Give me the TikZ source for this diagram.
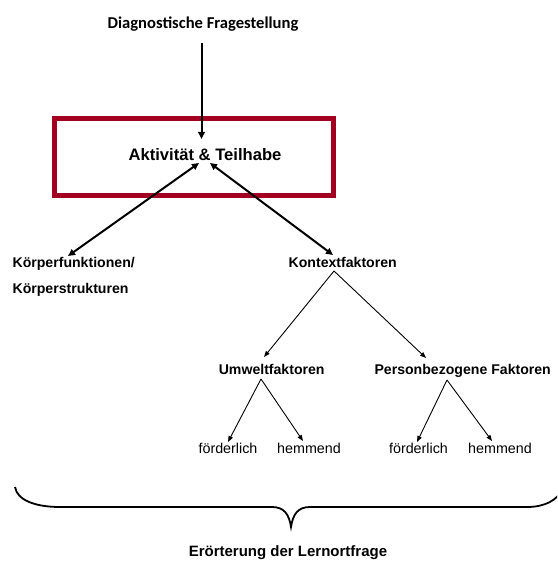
\documentclass[tikz,border=0pt]{standalone}
\usepackage{fontspec}
\setmainfont{Liberation Sans}
\newfontfamily\calib{Carlito}
\usetikzlibrary{arrows.meta}
\definecolor{boxred}{RGB}{163,0,33}
\begin{document}
\begin{tikzpicture}[x=1pt,y=-1pt,
  lbl/.style={font=\bfseries\fontsize{14.1}{17}\selectfont, inner sep=0pt, anchor=base},
  val/.style={font=\fontsize{14.3}{17}\selectfont, inner sep=0pt, anchor=base},
  thickarr/.style={line width=2pt, -{Triangle[length=7pt,width=6.5pt]}},
  dblarr/.style={line width=2pt, {Triangle[length=7pt,width=6.5pt]}-{Triangle[length=7pt,width=6.5pt]}},
  thinarr/.style={line width=0.9pt, -{Triangle[length=6pt,width=4.5pt]}},
  redbox/.style={draw=boxred, line width=5pt}]
\useasboundingbox (0,0) rectangle (557,561);
\clip (0,0) rectangle (557,561);
% texts
\node[inner sep=0pt, anchor=base, font=\calib\bfseries\fontsize{16.6}{20}\selectfont] (title) at (203,28.3) {Diagnostische Fragestellung};
\draw[redbox] (54,118.5) rectangle (333.2,195.8);
\node[inner sep=0pt, anchor=base, font=\bfseries\fontsize{16.6}{20}\selectfont] (akt) at (205,160.7) {Aktivität \& Teilhabe};
\node[lbl, anchor=base west] (koerp) at (12.4,267.3) {Körperfunktionen/};
\node[lbl, anchor=base west] (koerps) at (12.4,293.3) {Körperstrukturen};
\node[lbl] (kontext) at (342.7,267.3) {Kontextfaktoren};
\node[lbl] (umwelt) at (271.7,374) {Umweltfaktoren};
\node[lbl] (person) at (462.7,374) {Personbezogene Faktoren};
\node[val] (f1) at (228,453.3) {förderlich};
\node[val] (h1) at (309,453.3) {hemmend};
\node[val] (f2) at (418.5,453.3) {förderlich};
\node[val] (h2) at (500,453.3) {hemmend};
\node[inner sep=0pt, anchor=base, font=\bfseries\fontsize{15}{18}\selectfont] (eroert) at (288,556.7) {Erörterung der Lernortfrage};
% connectors
\draw[thickarr] ([shift={(-1.5,14.7)}]title.base) -- ([shift={(-3.5,-21.7)}]akt.base);
\draw[dblarr] ([shift={(-6,2.3)}]akt.base) -- ([shift={(55.6,-11.3)}]koerp.base west);
\draw[dblarr] ([shift={(5,2.3)}]akt.base) -- ([shift={(-9.7,-12.3)}]kontext.base);
\draw[thinarr] ([shift={(-8.7,3.7)}]kontext.base) -- ([shift={(-7.7,-17)}]umwelt.base);
\draw[thinarr] ([shift={(-8.7,3.7)}]kontext.base) -- ([shift={(-36.7,-16)}]person.base);
\draw[thinarr] ([shift={(-10.7,5)}]umwelt.base) -- ([shift={(0,-11.3)}]f1.base);
\draw[thinarr] ([shift={(-10.7,5)}]umwelt.base) -- ([shift={(-6,-12.3)}]h1.base);
\draw[thinarr] ([shift={(-15.7,6)}]person.base) -- ([shift={(-1.5,-11.3)}]f2.base);
\draw[thinarr] ([shift={(-15.7,6)}]person.base) -- ([shift={(-8,-12.3)}]h2.base);
% brace
\draw[line width=1.8pt] (15,487) .. controls (17,500) and (35,507) .. (60,507) -- (272,507)
  .. controls (284,507) and (289,514) .. (291,527)
  .. controls (293,514) and (298,507) .. (310,507) -- (527,507)
  .. controls (545,507) and (557,500) .. (562,490);
\end{tikzpicture}
\end{document}
